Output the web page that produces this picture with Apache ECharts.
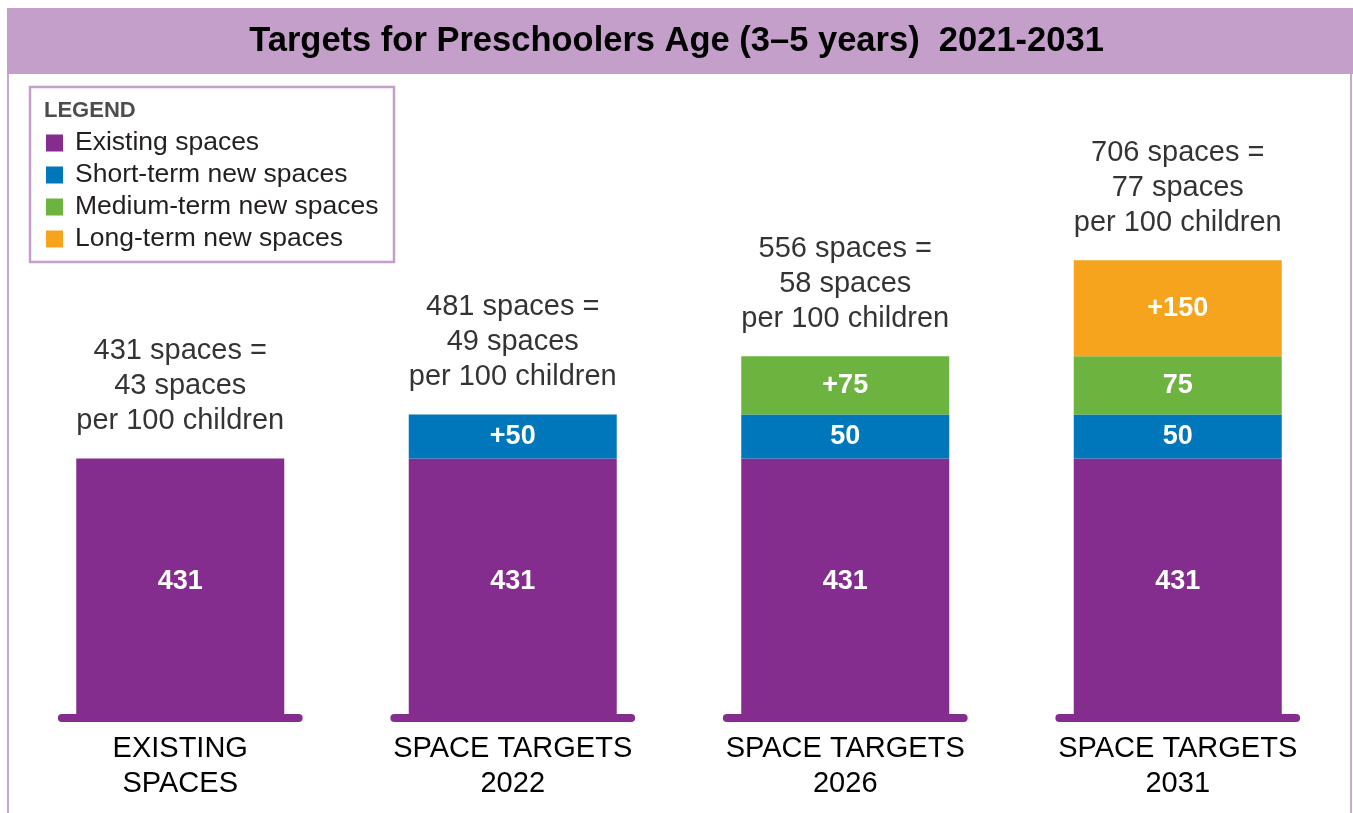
<!DOCTYPE html>
<html>
<head>
<meta charset="utf-8">
<style>
  html, body { margin: 0; padding: 0; background: #ffffff; }
  #chart { width: 1353px; height: 813px; }
</style>
<script src="https://cdn.jsdelivr.net/npm/echarts@6/dist/echarts.min.js"></script>
</head>
<body>
<div id="chart"></div>
<script>
// ---------- data ----------
const categories = ['EXISTING\nSPACES', 'SPACE TARGETS\n2022', 'SPACE TARGETS\n2026', 'SPACE TARGETS\n2031'];
const seriesNames = ['Existing spaces', 'Short-term new spaces', 'Medium-term new spaces', 'Long-term new spaces'];
const existing = [431, 431, 431, 431];
const shortTerm = [null, 50, 50, 50];
const mediumTerm = [null, null, 75, 75];
const longTerm = [null, null, null, 150];
const existingLabels = ['431', '431', '431', '431'];
const shortLabels = ['', '+50', '50', '50'];
const mediumLabels = ['', '', '+75', '75'];
const longLabels = ['', '', '', '+150'];
const totals = [431, 481, 556, 706];
const perHundred = [43, 49, 58, 77];
const titleText = 'Targets for Preschoolers Age (3\u20135 years)  2021-2031';

// ---------- styling ----------
const FONT = '"Liberation Sans", Arial, Helvetica, sans-serif';
const COLORS = ['#852C8F', '#0077BB', '#6CB33F', '#F6A31D'];
const FRAME = '#C39FCA';
const Y_MIN = 226, Y_MAX = 800;

function insideLabel(arr, extra) {
  return Object.assign({
    show: true,
    position: 'inside',
    color: '#ffffff',
    fontFamily: FONT,
    fontWeight: 'bold',
    fontSize: 27,
    formatter: p => arr[p.dataIndex]
  }, extra || {});
}

const seriesData = [existing, shortTerm, mediumTerm, longTerm];
const labelData = [existingLabels, shortLabels, mediumLabels, longLabels];

const barSeries = seriesNames.map((name, i) => ({
  name: name,
  type: 'bar',
  stack: 'spaces',
  barWidth: 208,
  data: seriesData[i],
  itemStyle: { color: COLORS[i] },
  label: insideLabel(labelData[i], i === 0 ? { offset: [0, -7] } : null),
  emphasis: { disabled: true },
  z: 2
}));

const chart = echarts.init(document.getElementById('chart'), null, { renderer: 'canvas' });

chart.setOption({
  animation: false,
  backgroundColor: '#ffffff',
  title: {
    text: titleText,
    left: 'center',
    top: 24,
    padding: 0,
    textStyle: { fontFamily: FONT, fontSize: 34.5, fontWeight: 'bold', color: '#000000', lineHeight: 34 },
    z: 10
  },
  graphic: [
    { type: 'rect', z: 0, shape: { x: 7, y: 8, width: 1346, height: 66 }, style: { fill: FRAME } },
    { type: 'line', z: 0, shape: { x1: 8, y1: 74, x2: 8, y2: 813 }, style: { stroke: '#C9A8CF', lineWidth: 2 } },
    { type: 'line', z: 0, shape: { x1: 1351, y1: 74, x2: 1351, y2: 813 }, style: { stroke: '#C9A8CF', lineWidth: 2 } },
    { type: 'rect', z: 0, shape: { x: 30, y: 87, width: 364, height: 175 }, style: { fill: '#ffffff', stroke: FRAME, lineWidth: 2.5 } },
    { type: 'text', z: 5, x: 44, y: 111, style: { text: 'LEGEND', fontFamily: FONT, fontSize: 22, fontWeight: 'bold', fill: '#4D4D4D', verticalAlign: 'middle' } }
  ],
  legend: {
    data: seriesNames,
    orient: 'vertical',
    left: 46,
    top: 127,
    padding: 0,
    itemGap: 0,
    itemWidth: 17,
    itemHeight: 17,
    icon: 'rect',
    selectedMode: false,
    textStyle: { fontFamily: FONT, fontSize: 26.5, lineHeight: 32, color: '#231F20', padding: [0, 0, 0, 7] }
  },
  grid: { left: 14, right: 9, top: 210, bottom: 95, containLabel: false },
  xAxis: {
    type: 'category',
    data: categories,
    axisLine: { show: false },
    axisTick: { show: false },
    axisLabel: { fontFamily: FONT, fontSize: 29, lineHeight: 35, color: '#000000', margin: 13, interval: 0 }
  },
  yAxis: {
    type: 'log',
    min: Y_MIN,
    max: Y_MAX,
    show: false,
    splitLine: { show: false }
  },
  series: barSeries.concat([
    {
      type: 'custom',
      name: 'baseline',
      data: categories.map((c, i) => i),
      renderItem: function (params, api) {
        const pt = api.coord([api.value(0), Y_MIN]);
        const band = api.size([1, 0])[0];
        const half = band * 0.356;
        return {
          type: 'line',
          shape: { x1: pt[0] - half, y1: pt[1], x2: pt[0] + half, y2: pt[1] },
          style: { stroke: COLORS[0], lineWidth: 8, lineCap: 'round' }
        };
      },
      clip: false,
      z: 3,
      silent: true
    },
    {
      type: 'scatter',
      name: 'totals',
      data: totals,
      symbolSize: 0,
      silent: true,
      label: {
        show: true,
        position: 'top',
        distance: 20,
        fontFamily: FONT,
        fontSize: 29,
        lineHeight: 35,
        color: '#000000',
        align: 'center',
        formatter: p => totals[p.dataIndex] + ' spaces =\n' + perHundred[p.dataIndex] + ' spaces\nper 100 children'
      },
      z: 4
    }
  ])
});
</script>
</body>
</html>
